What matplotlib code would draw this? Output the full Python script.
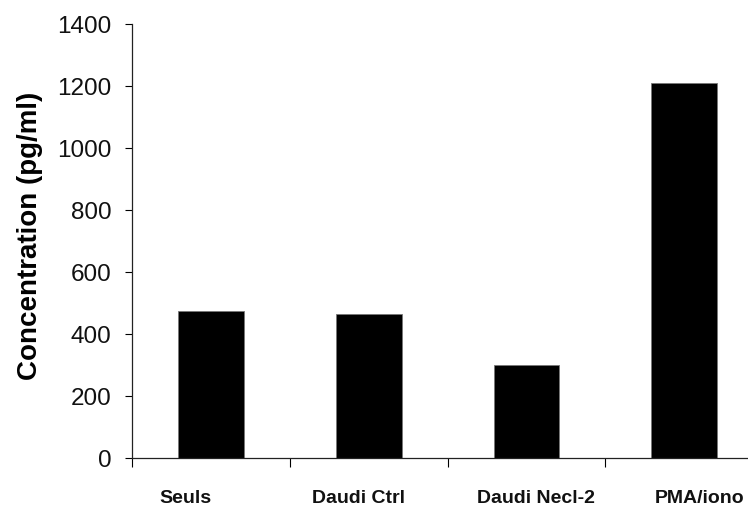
import numpy as np
import matplotlib
matplotlib.use("Agg")
import matplotlib.pyplot as plt
import matplotlib.transforms as mtransforms

plt.rcParams['font.family'] = ['Liberation Sans', 'DejaVu Sans']

# data
groups = ['Seuls', 'Daudi Ctrl', 'Daudi Necl-2', 'PMA/iono']
conc = [476, 465, 301, 1210]
yticks = [0, 200, 400, 600, 800, 1000, 1200, 1400]
# labels sit a bit off the bar centres in the original
label_x = [-0.165, 0.933, 2.057, 3.10]

fig = plt.figure(figsize=(7.48, 5.09), dpi=100)
ax = fig.add_axes([0.1769, 0.0996, 1.0201 - 0.1769, 0.9528 - 0.0996])

x = np.arange(len(groups))
ax.bar(x, conc, width=0.415, color='black', edgecolor='#777777', linewidth=0.6)

ax.set_xlim(-0.5, 3.5)
ax.set_ylim(0, 1400)
ax.set_yticks(yticks)
ax.set_yticklabels([str(v) for v in yticks], fontsize=17.5, color='#111111')
ax.tick_params(axis='y', direction='out', length=5, width=0.8, pad=10)

# category boundary ticks on the x axis, labels drawn as text
ax.set_xticks(np.arange(len(groups) + 1) - 0.5)
ax.set_xticklabels([])
ax.tick_params(axis='x', direction='out', length=6.5, width=0.8)
trans = mtransforms.blended_transform_factory(ax.transData, ax.transAxes)
for xp, name in zip(label_x, groups):
    ax.text(xp, -0.092, name, transform=trans, ha='center', va='center',
            fontsize=14, fontweight='bold', color='#111111')

ax.set_ylabel('Concentration (pg/ml)', fontsize=20, fontweight='bold')
ax.yaxis.set_label_coords(-0.142, 0.512)

for s in ['top', 'right']:
    ax.spines[s].set_visible(False)
for s in ['left', 'bottom']:
    ax.spines[s].set_linewidth(0.9)
    ax.spines[s].set_color('#222222')

fig.savefig('out.png', dpi=100)
